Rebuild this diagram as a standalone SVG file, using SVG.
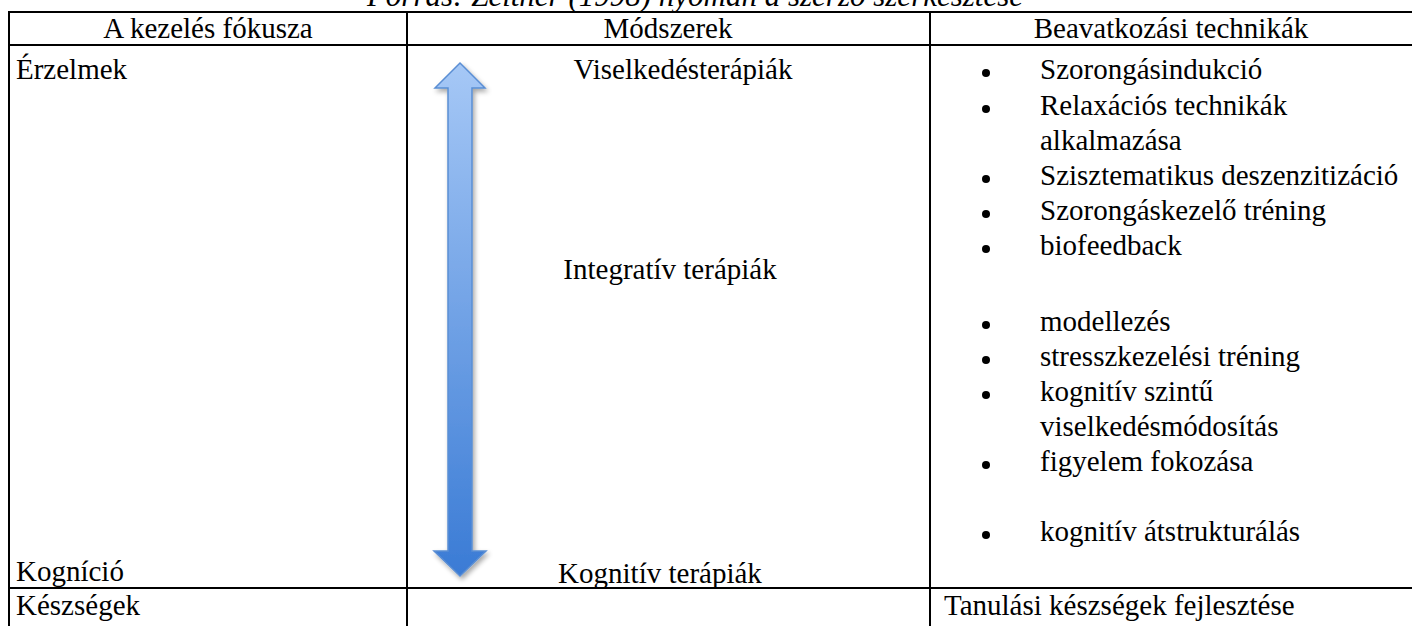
<svg xmlns="http://www.w3.org/2000/svg" width="1412" height="626" viewBox="0 0 1412 626">
  <style>
    .t { font-family: "Liberation Serif", "Times New Roman", serif; font-size: 29px; fill: #000; }
    .c { text-anchor: middle; }
    .cap { font-style: italic; font-size: 31px; }
    .grid line { stroke: #000; stroke-width: 2; }
  </style>
  <defs>
    <linearGradient id="arrowFill" x1="0" y1="0" x2="0" y2="1">
      <stop offset="0" stop-color="#a6c8f6"/>
      <stop offset="1" stop-color="#3a7bd5"/>
    </linearGradient>
    <filter id="softShadow" x="-40%" y="-10%" width="180%" height="120%">
      <feGaussianBlur in="SourceAlpha" stdDeviation="2.5"/>
      <feOffset dx="2" dy="3" result="b"/>
      <feComponentTransfer><feFuncA type="linear" slope="0.35"/></feComponentTransfer>
      <feMerge><feMergeNode/><feMergeNode in="SourceGraphic"/></feMerge>
    </filter>
  </defs>
  <rect width="1412" height="626" fill="#fff"/>

  <!-- caption above the table -->
  <text class="t cap c" x="695" y="6">Forrás: Zeltner (1998) nyomán a szerző szerkesztése</text>

  <!-- table grid -->
  <g id="grid" class="grid">
    <line x1="8" y1="12" x2="1412" y2="12"/>
    <line x1="8" y1="45" x2="1412" y2="45"/>
    <line x1="8" y1="588" x2="1412" y2="588"/>
    <line x1="9" y1="11" x2="9" y2="626"/>
    <line x1="407" y1="11" x2="407" y2="626"/>
    <line x1="930" y1="11" x2="930" y2="626"/>
  </g>

  <!-- header row -->
  <g id="header">
    <text class="t c" x="208" y="38">A kezelés fókusza</text>
    <text class="t c" x="668" y="38">Módszerek</text>
    <text class="t c" x="1171" y="38">Beavatkozási technikák</text>
  </g>

  <!-- focus column -->
  <g id="focus">
    <text class="t" x="16" y="79">Érzelmek</text>
    <text class="t" x="16" y="581">Kogníció</text>
    <text class="t" x="16" y="615">Készségek</text>
  </g>

  <!-- methods column -->
  <g id="methods">
    <text class="t c" x="683" y="79">Viselkedésterápiák</text>
    <text class="t c" x="670" y="279">Integratív terápiák</text>
    <text class="t c" x="660" y="583">Kognitív terápiák</text>
  </g>

  <!-- connectors: double-headed block arrow -->
  <g id="connectors">
    <path d="M460,63 L485,88 L472,88 L472,551 L486,551 L460,576 L434,551 L448,551 L448,88 L435,88 Z"
          fill="url(#arrowFill)" stroke="#5a8ed4" stroke-width="1.5" stroke-linejoin="miter" filter="url(#softShadow)"/>
  </g>

  <!-- techniques column -->
  <g id="techniques">
    <g fill="#000">
      <circle cx="986" cy="73" r="4"/>
      <circle cx="986" cy="109" r="4"/>
      <circle cx="986" cy="179" r="4"/>
      <circle cx="986" cy="214" r="4"/>
      <circle cx="986" cy="249" r="4"/>
      <circle cx="986" cy="325" r="4"/>
      <circle cx="986" cy="360" r="4"/>
      <circle cx="986" cy="395" r="4"/>
      <circle cx="986" cy="465" r="4"/>
      <circle cx="986" cy="535" r="4"/>
    </g>
    <text class="t" x="1040" y="79">Szorongásindukció</text>
    <text class="t" x="1040" y="115">Relaxációs technikák</text>
    <text class="t" x="1040" y="150">alkalmazása</text>
    <text class="t" x="1040" y="185">Szisztematikus deszenzitizáció</text>
    <text class="t" x="1040" y="220">Szorongáskezelő tréning</text>
    <text class="t" x="1040" y="255">biofeedback</text>
    <text class="t" x="1040" y="331">modellezés</text>
    <text class="t" x="1040" y="366">stresszkezelési tréning</text>
    <text class="t" x="1040" y="401">kognitív szintű</text>
    <text class="t" x="1040" y="436">viselkedésmódosítás</text>
    <text class="t" x="1040" y="471">figyelem fokozása</text>
    <text class="t" x="1040" y="541">kognitív átstrukturálás</text>
    <text class="t" x="944" y="615">Tanulási készségek fejlesztése</text>
  </g>
</svg>
